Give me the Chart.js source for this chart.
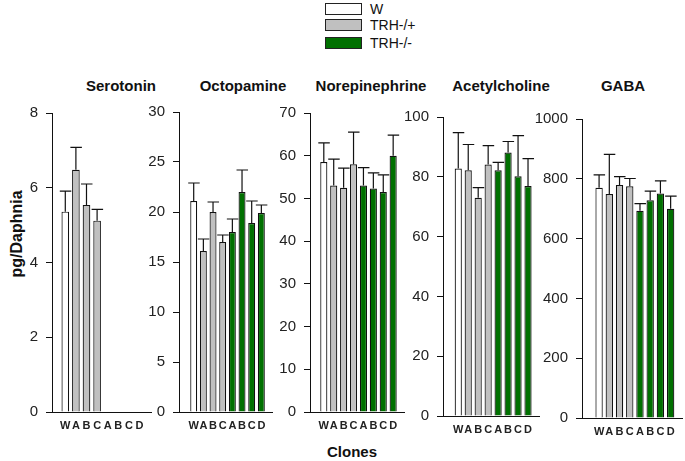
<!DOCTYPE html>
<html>
<head>
<meta charset="utf-8">
<script src="https://cdn.jsdelivr.net/npm/chart.js@4.4.0/dist/chart.umd.min.js"></script>
<style>
  body { margin: 0; background: #fff; font-family: Arial, "Liberation Sans", sans-serif; }
  #wrap { position: relative; width: 685px; height: 461px; overflow: hidden; }
  canvas { position: absolute; }
  .txt { position: absolute; transform: translate(-50%, -50%); font-weight: bold; color: #111; white-space: nowrap; }
  .key { position: absolute; left: 325px; height: 11px; font-size: 14px; color: #111; }
  .key span { position: absolute; left: 0; top: 0; width: 35px; height: 10px; border: 1px solid #222; }
  .key b { position: absolute; left: 45px; top: 50%; transform: translateY(-50%); font-weight: normal; white-space: nowrap; }
</style>
</head>
<body>
<div id="wrap">
  <div class="key" style="top:3px"><span style="background:#fff"></span><b>W</b></div>
  <div class="key" style="top:19px"><span style="background:#c0c0c0"></span><b>TRH-/+</b></div>
  <div class="key" style="top:37px"><span style="background:#007000"></span><b>TRH-/-</b></div>
  <div class="txt" style="left:17px;top:234px;font-size:16px;transform:translate(-50%,-50%) rotate(-90deg)">pg/Daphnia</div>
  <div class="txt" style="left:352px;top:451px;font-size:15px">Clones</div>
</div>
<script>
// clones on the x axis, and which group each belongs to
const clones = ['W', 'A', 'B', 'C', 'A', 'B', 'C', 'D'];
const groups = ['W', 'TRH-/+', 'TRH-/+', 'TRH-/+', 'TRH-/-', 'TRH-/-', 'TRH-/-', 'TRH-/-'];

// means and SE, pg/Daphnia
const serotonin = [5.36, 6.48, 5.54, 5.12, null, null, null, null];
const serotoninSE = [0.55, 0.6, 0.56, 0.3, null, null, null, null];
const octopamine = [21.1, 16.1, 20.0, 17.0, 18.0, 22.0, 18.9, 19.9];
const octopamineSE = [1.8, 1.2, 1.0, 0.7, 1.3, 2.2, 2.2, 0.8];
const norepinephrine = [58.5, 53.0, 52.5, 58.0, 53.0, 52.3, 51.5, 60.0];
const norepinephrineSE = [4.5, 6.2, 4.6, 7.5, 4.2, 3.7, 4.0, 4.8];
const acetylcholine = [82.8, 82.2, 73.0, 84.1, 82.2, 88.1, 80.2, 76.9];
const acetylcholineSE = [12.0, 8.6, 3.4, 6.3, 2.6, 3.7, 13.6, 9.2];
const gaba = [770, 749, 779, 775, 693, 728, 751, 700];
const gabaSE = [43, 133, 28, 26, 24, 31, 42, 42];

const titles = ['Serotonin', 'Octopamine', 'Norepinephrine', 'Acetylcholine', 'GABA'];
const series = [serotonin, octopamine, norepinephrine, acetylcholine, gaba];
const errors = [serotoninSE, octopamineSE, norepinephrineSE, acetylcholineSE, gabaSE];
const yMax = [8, 30, 70, 100, 1000];
const yStep = [2, 5, 10, 20, 200];

const groupColor = { 'W': '#ffffff', 'TRH-/+': '#c0c0c0', 'TRH-/-': '#007000' };

// plot boxes on the page: left, top, right, bottom of the axes, title centre, x start
const boxes = [
  { l: 52, t: 113, r: 151, b: 412, tx: 121, xmin: -0.67 },
  { l: 179, t: 112, r: 272, b: 412, tx: 243, xmin: -0.92 },
  { l: 310, t: 113, r: 404, b: 412, tx: 371, xmin: -0.8 },
  { l: 443, t: 117, r: 539, b: 416, tx: 501, xmin: -0.93 },
  { l: 582, t: 119, r: 682, b: 418, tx: 623, xmin: -1.06 }
];
const YW = 56, PT = 20, PR = 12, XH = 30;

const errorBars = {
  id: 'errorBars',
  afterDatasetsDraw(chart, args, opts) {
    const meta = chart.getDatasetMeta(0);
    const ys = chart.scales.y;
    const pts = chart.data.datasets[0].data;
    const c = chart.ctx;
    c.save();
    c.strokeStyle = '#111';
    c.lineWidth = 1.2;
    meta.data.forEach((bar, k) => {
      const p = pts[k];
      const e = opts.errs[p.x];
      if (e == null) return;
      const top = ys.getPixelForValue(p.y + e);
      c.beginPath();
      c.moveTo(bar.x, bar.y);
      c.lineTo(bar.x, top);
      c.moveTo(bar.x - 5.5, top);
      c.lineTo(bar.x + 6, top);
      c.stroke();
    });
    c.restore();
  }
};

const wrap = document.getElementById('wrap');

series.forEach((vals, n) => {
  const box = boxes[n];
  const title = document.createElement('div');
  title.className = 'txt';
  title.style.left = box.tx + 'px';
  title.style.top = '85px';
  title.style.fontSize = '15px';
  title.textContent = titles[n];
  wrap.appendChild(title);

  const cv = document.createElement('canvas');
  const w = YW + (box.r - box.l) + PR;
  const h = PT + (box.b - box.t) + XH;
  cv.width = w; cv.height = h;
  cv.style.width = w + 'px'; cv.style.height = h + 'px';
  cv.style.left = (box.l - YW) + 'px';
  cv.style.top = (box.t - PT) + 'px';
  wrap.appendChild(cv);

  const pts = [], cols = [];
  vals.forEach((v, i) => {
    if (v == null) return;
    pts.push({ x: i, y: v });
    cols.push(groupColor[groups[i]]);
  });

  new Chart(cv.getContext('2d'), {
    type: 'bar',
    data: {
      datasets: [{
        data: pts,
        backgroundColor: cols,
        borderColor: '#111',
        borderWidth: 1.2,
        borderSkipped: 'bottom',
        barPercentage: 0.72,
        categoryPercentage: 1
      }]
    },
    options: {
      responsive: false,
      animation: false,
      devicePixelRatio: 1,
      layout: { padding: { top: PT, right: PR, left: 0, bottom: 0 } },
      plugins: {
        legend: { display: false },
        tooltip: { enabled: false },
        errorBars: { errs: errors[n] }
      },
      scales: {
        x: {
          type: 'linear',
          min: box.xmin,
          max: 7.5,
          afterBuildTicks: s => { s.ticks = clones.map((c, i) => ({ value: i })); },
          afterFit: s => { s.height = XH; },
          grid: { display: false, drawTicks: false },
          border: { display: true, color: '#111', width: 1 },
          ticks: {
            autoSkip: false, maxRotation: 0, padding: 7,
            color: '#222', font: { size: 11, weight: 'bold', family: 'Arial' },
            callback: v => clones[v]
          }
        },
        y: {
          min: 0,
          max: yMax[n],
          afterFit: s => { s.width = YW; },
          grid: { display: true, drawOnChartArea: false, drawTicks: true, tickLength: 6, color: '#111', lineWidth: 1 },
          border: { display: true, color: '#111', width: 1 },
          ticks: {
            stepSize: yStep[n], padding: 8,
            color: '#222', font: { size: 15, family: 'Arial' },
            callback: v => String(v)
          }
        }
      }
    },
    plugins: [errorBars]
  });
});
</script>
</body>
</html>
